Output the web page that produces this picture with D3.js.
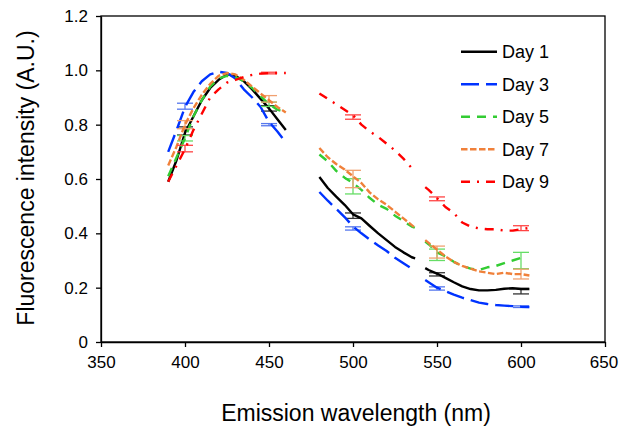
<!DOCTYPE html>
<html><head><meta charset="utf-8">
<script src="https://cdn.jsdelivr.net/npm/d3@7"></script>
<style>body{margin:0;background:#fff}svg{display:block}text{font-family:"Liberation Sans",Arial,sans-serif;fill:#000}</style>
</head><body><svg id="c" width="619" height="432"></svg>
<script>
// ---- data ----
const wlLeft   = [390,395,400,405,410,415,420,425,430,435,440,445,450,455,460];
const wlRight1 = [480,485,490,495,500,505,510,515,520,525,530,535,537];
const wlRight2 = [543,545,550,555,560,565,570,575,580,585,590,595,600,605];

const day1Left = [0.59,0.67,0.77,0.83,0.89,0.935,0.965,0.985,0.98,0.96,0.93,0.895,0.86,0.82,0.78];
const day3Left = [0.70,0.78,0.865,0.92,0.96,0.985,0.995,0.99,0.97,0.93,0.90,0.865,0.81,0.775,0.735];
const day5Left = [0.61,0.68,0.75,0.83,0.89,0.94,0.97,0.98,0.975,0.96,0.935,0.905,0.875,0.855,0.845];
const day7Left = [0.65,0.72,0.80,0.86,0.91,0.95,0.98,0.99,0.985,0.965,0.94,0.915,0.89,0.865,0.845];
const day9Left = [0.59,0.65,0.71,0.78,0.84,0.90,0.93,0.955,0.965,0.975,0.983,0.988,0.99,0.99,0.99];

const day1Right1 = [0.607,0.567,0.535,0.505,0.47,0.455,0.427,0.40,0.375,0.35,0.33,0.312,0.308];
const day3Right1 = [0.552,0.52,0.49,0.46,0.425,0.40,0.377,0.355,0.335,0.31,0.29,0.27,0.265];
const day5Right1 = [0.69,0.665,0.63,0.605,0.585,0.56,0.53,0.505,0.49,0.465,0.445,0.425,0.42];
const day7Right1 = [0.714,0.68,0.655,0.635,0.61,0.585,0.55,0.525,0.505,0.48,0.455,0.43,0.42];
const day9Right1 = [0.915,0.895,0.875,0.855,0.835,0.80,0.775,0.755,0.73,0.705,0.675,0.64,0.63];

const day1Right2 = [0.272,0.265,0.252,0.236,0.22,0.205,0.195,0.19,0.19,0.192,0.196,0.198,0.195,0.195];
const day3Right2 = [0.228,0.22,0.20,0.187,0.174,0.163,0.154,0.145,0.14,0.136,0.134,0.132,0.13,0.129];
const day5Right2 = [0.37,0.36,0.33,0.315,0.295,0.28,0.27,0.265,0.275,0.28,0.29,0.30,0.31,null];
const day7Right2 = [0.375,0.365,0.34,0.315,0.295,0.28,0.27,0.26,0.255,0.25,0.255,0.25,0.25,0.245];
const day9Right2 = [0.57,0.56,0.53,0.497,0.475,0.44,0.425,0.418,0.415,0.415,0.41,0.41,0.415,0.42];

const errWl = [400,450,500,550,600];
const day1Mean = [0.777,0.86,0.465,0.249,0.187];
const day1Err  = [0.015,0.01,0.01,0.006,0.01];
const day3Mean = [0.868,0.80,0.418,0.197,0.13];
const day3Err  = [0.011,0.004,0.006,0.006,0.003];
const day5Mean = [0.75,0.875,0.573,0.321,0.30];
const day5Err  = [0.01,0.008,0.028,0.021,0.03];
const day7Mean = [0.80,0.895,0.60,0.331,0.25];
const day7Err  = [0.015,0.012,0.032,0.022,0.018];
const day9Mean = [0.712,0.99,0.828,0.527,0.419];
const day9Err  = [0.012,0.003,0.008,0.007,0.009];

const seriesNames = ["Day 1","Day 3","Day 5","Day 7","Day 9"];
const yTicks = [0,0.2,0.4,0.6,0.8,1.0,1.2];
const xTicks = [350,400,450,500,550,600,650];

// ---- styles ----
const colors = ["#000000","#0033ff","#33cc33","#f0803a","#ff0000"];
const errColors = ["#333333","#5577ee","#66dd66","#f0a070","#ff4444"];
const dashes = [null,"18,7","9,7","6.5,2.5","9,7,2,7"];

const seriesData = [
  {left:day1Left,r1:day1Right1,r2:day1Right2,mean:day1Mean,err:day1Err},
  {left:day3Left,r1:day3Right1,r2:day3Right2,mean:day3Mean,err:day3Err},
  {left:day5Left,r1:day5Right1,r2:day5Right2,mean:day5Mean,err:day5Err},
  {left:day7Left,r1:day7Right1,r2:day7Right2,mean:day7Mean,err:day7Err},
  {left:day9Left,r1:day9Right1,r2:day9Right2,mean:day9Mean,err:day9Err}
];

const svg = d3.select("#c");
const L=101,R=605,T=16,B=342;
const x = d3.scaleLinear().domain([350,650]).range([L,R]);
const y = d3.scaleLinear().domain([0,1.2]).range([B,T]);

// frame
svg.append("rect").attr("x",L).attr("y",T).attr("width",R-L).attr("height",B-T)
  .attr("fill","none").attr("stroke","#000").attr("stroke-width",1.3);

// axes
const yAxis = d3.axisLeft(y).tickValues(yTicks).tickSize(5).tickSizeOuter(0)
  .tickFormat(d=>d===0?"0":d3.format(".1f")(d));
const gy = svg.append("g").attr("transform",`translate(${L},0)`).call(yAxis);
gy.select(".domain").attr("stroke","#000").attr("stroke-width",1.3);
gy.selectAll(".tick line").attr("stroke","#000").attr("stroke-width",1.3);
gy.selectAll(".tick text").attr("x",-13).style("font-size","17px").style("font-family","Liberation Sans, Arial, sans-serif");

const xAxis = d3.axisBottom(x).tickValues(xTicks).tickSize(5).tickSizeOuter(0).tickFormat(d3.format("d"));
const gx = svg.append("g").attr("transform",`translate(0,${B})`).call(xAxis);
gx.select(".domain").attr("stroke","#000").attr("stroke-width",1.3);
gx.selectAll(".tick line").attr("stroke","#000").attr("stroke-width",1.3);
gx.selectAll(".tick text").attr("y",14).style("font-size","17px").style("font-family","Liberation Sans, Arial, sans-serif")
  .attr("dx",d=>d===650?-1.5:0);

// titles
svg.append("text").attr("transform","translate(34,178) rotate(-90)").attr("text-anchor","middle")
  .style("font-size","23px").text("Fluorescence intensity (A.U.)");
svg.append("text").attr("x",356).attr("y",421).attr("text-anchor","middle")
  .style("font-size","23px").text("Emission wavelength (nm)");

const line = d3.line().defined(d=>d[1]!=null).x(d=>x(d[0])).y(d=>y(d[1]));

seriesData.forEach((s,i)=>{
  const g = svg.append("g");
  // error bars
  errWl.forEach((w,j)=>{
    const cx=x(w), y1=y(s.mean[j]-s.err[j]), y2=y(s.mean[j]+s.err[j]);
    g.append("line").attr("x1",cx).attr("x2",cx).attr("y1",y1).attr("y2",y2)
      .attr("stroke",errColors[i]).attr("stroke-width",1.3);
    [y1,y2].forEach(yy=>g.append("line").attr("x1",cx-8).attr("x2",cx+8).attr("y1",yy).attr("y2",yy)
      .attr("stroke",errColors[i]).attr("stroke-width",1.3));
  });
  [[wlLeft,s.left],[wlRight1,s.r1],[wlRight2,s.r2]].forEach(([ws,vs])=>{
    g.append("path").datum(ws.map((w,k)=>[w,vs[k]])).attr("d",line)
      .attr("fill","none").attr("stroke",colors[i]).attr("stroke-width",2.4)
      .attr("stroke-dasharray",dashes[i]).attr("stroke-linejoin","round");
  });
});

// legend
seriesNames.forEach((n,i)=>{
  const yy = 51.7 + i*32.5;
  svg.append("line").attr("x1",461).attr("x2",497).attr("y1",yy).attr("y2",yy)
    .attr("stroke",colors[i]).attr("stroke-width",2.4).attr("stroke-dasharray",dashes[i]);
  svg.append("text").attr("x",502).attr("y",yy).attr("dy","0.36em")
    .style("font-size","18px").text(n);
});
</script></body></html>
